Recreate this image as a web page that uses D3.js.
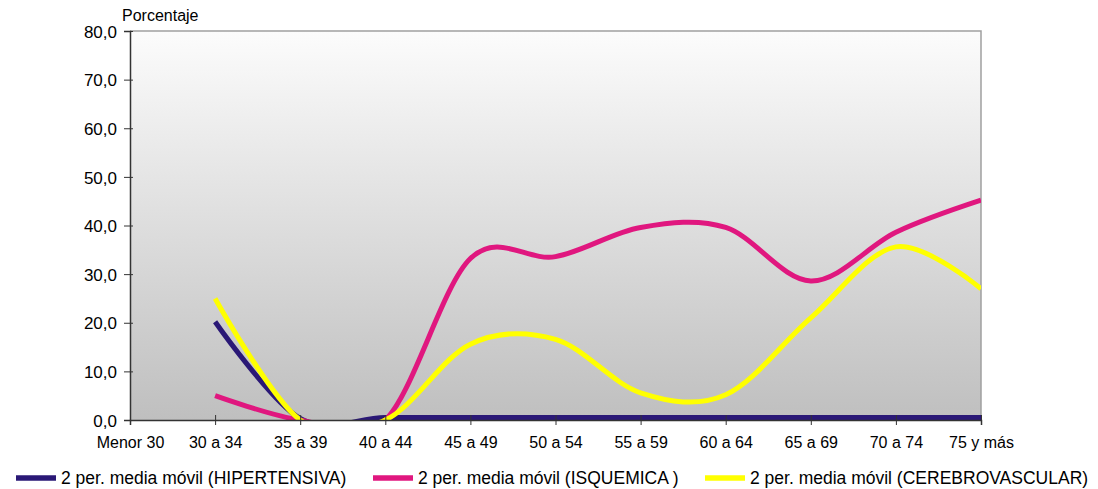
<!DOCTYPE html>
<html>
<head>
<meta charset="utf-8">
<script src="https://cdn.jsdelivr.net/npm/d3@7"></script>
<style>
  html, body { margin: 0; padding: 0; background: #fff; }
  svg { display: block; }
  svg text { font-family: "Liberation Sans", Arial, sans-serif; }
</style>
</head>
<body>
<svg id="chart" width="1098" height="489"></svg>
<script>
// Age groups on the horizontal axis
const categories = ["Menor 30", "30 a 34", "35 a 39", "40 a 44", "45 a 49", "50 a 54",
                    "55 a 59", "60 a 64", "65 a 69", "70 a 74", "75 y más"];

// Two-period moving averages (percent); null = no value
const hipertensiva = [null, 20.2, 0.3, 0.5, 0.5, 0.5, 0.5, 0.5, 0.5, 0.5, 0.5];
const isquemica = [null, 5.0, 0.0, 0.0, 33.2, 33.6, 39.6, 39.6, 28.6, 38.6, 45.2];
const cerebrovascular = [null, 25.0, 0.0, 0.0, 15.6, 16.6, 5.6, 5.2, 21.0, 35.6, 27.0];

const yTicks = [0, 10, 20, 30, 40, 50, 60, 70, 80];

const series = [
  { name: "2 per. media móvil (HIPERTENSIVA)", values: hipertensiva, color: "#2a1876" },
  { name: "2 per. media móvil (ISQUEMICA )", values: isquemica, color: "#e0177f" },
  { name: "2 per. media móvil (CEREBROVASCULAR)", values: cerebrovascular, color: "#ffff00" }
];

const svg = d3.select("#chart");
const plotL = 130, plotR = 981, plotT = 31, plotB = 420;

const x = d3.scalePoint().domain(categories).range([plotL, plotR]);
const y = d3.scaleLinear().domain([0, 80]).range([plotB, plotT]);

// Plot background: vertical gradient from light to grey
const defs = svg.append("defs");
const grad = defs.append("linearGradient").attr("id", "bg")
  .attr("x1", 0).attr("y1", 0).attr("x2", 0).attr("y2", 1);
grad.append("stop").attr("offset", "0%").attr("stop-color", "#fcfcfc");
grad.append("stop").attr("offset", "100%").attr("stop-color", "#bfbfbf");
defs.append("clipPath").attr("id", "plotClip")
  .append("rect").attr("x", plotL).attr("y", plotT).attr("width", plotR - plotL).attr("height", plotB - plotT);

svg.append("rect")
  .attr("x", plotL).attr("y", plotT).attr("width", plotR - plotL).attr("height", plotB - plotT)
  .attr("fill", "url(#bg)");

// Top and right border of the plot area
svg.append("path")
  .attr("d", `M${plotL},${plotT}H${plotR}V${plotB}`)
  .attr("fill", "none").attr("stroke", "#a0a0a0").attr("stroke-width", 1.5);

// Smoothed series lines, clipped to the plot area
const line = d3.line()
  .defined(d => d.v !== null)
  .x(d => x(d.c))
  .y(d => y(d.v))
  .curve(d3.curveCatmullRom.alpha(0));

const g = svg.append("g").attr("clip-path", "url(#plotClip)");
series.forEach(s => {
  g.append("path")
    .datum(categories.map((c, i) => ({ c, v: s.values[i] })))
    .attr("d", line)
    .attr("fill", "none")
    .attr("stroke", s.color)
    .attr("stroke-width", 5)
    .attr("stroke-linejoin", "round");
});

// Y axis
const yAxis = d3.axisLeft(y).tickValues(yTicks).tickSize(6)
  .tickFormat(d => d.toFixed(1).replace(".", ","));
const ya = svg.append("g").attr("transform", `translate(${plotL},0)`).call(yAxis);
ya.attr("font-family", null).attr("font-size", null);
ya.select(".domain").attr("stroke", "#333").attr("stroke-width", 1.5);
ya.selectAll(".tick line").attr("stroke", "#333").attr("x1", 3).attr("x2", -6);
ya.selectAll(".tick text").attr("x", -13).attr("dy", "0.36em")
  .attr("font-size", 17).attr("fill", "#000");

// X axis
const xAxis = d3.axisBottom(x).tickSize(5);
const xa = svg.append("g").attr("transform", `translate(0,${plotB})`).call(xAxis);
xa.attr("font-family", null).attr("font-size", null);
xa.select(".domain").attr("stroke", "#333").attr("stroke-width", 1.5);
xa.selectAll(".tick line").attr("stroke", "#333").attr("y1", -5).attr("y2", 5);
xa.selectAll(".tick text").attr("y", 28).attr("dy", 0)
  .attr("font-size", 16).attr("fill", "#000");

// Y axis title
svg.append("text").attr("x", 122).attr("y", 21)
  .attr("font-size", 16).attr("fill", "#000").text("Porcentaje");

// Legend
const legendX = [16, 373, 705];
series.forEach((s, i) => {
  svg.append("line")
    .attr("x1", legendX[i]).attr("x2", legendX[i] + 40)
    .attr("y1", 478).attr("y2", 478)
    .attr("stroke", s.color).attr("stroke-width", 5.5);
  svg.append("text")
    .attr("x", legendX[i] + 45).attr("y", 484)
    .attr("font-size", 17.5).attr("fill", "#000").text(s.name);
});
</script>
</body>
</html>
